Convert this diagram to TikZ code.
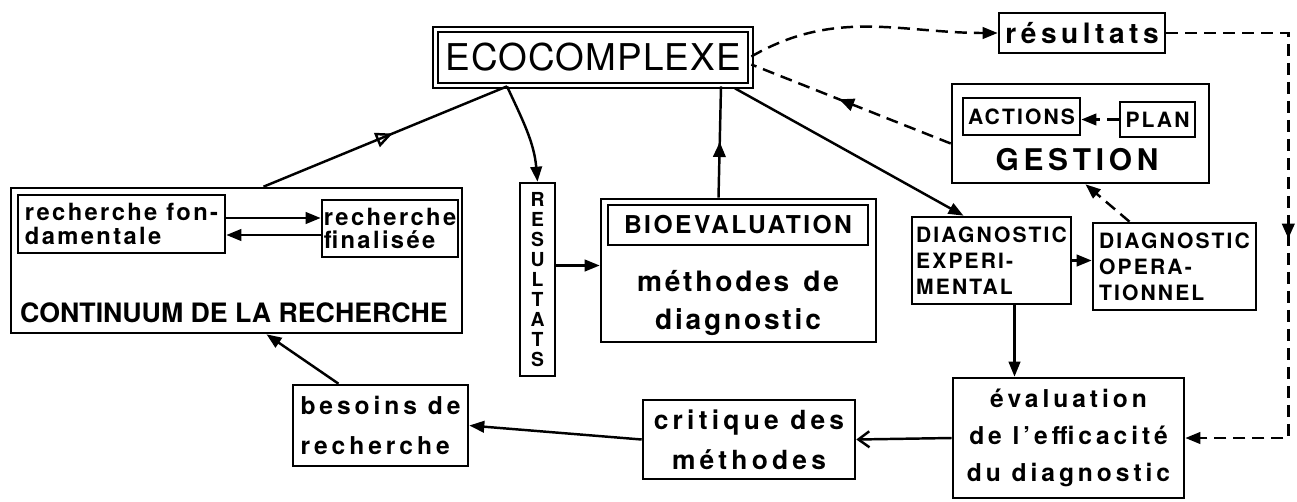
\documentclass[tikz,border=0pt]{standalone}
\usepackage{fontspec}
\newfontfamily\hv{TeX Gyre Heros}
\newfontfamily\hvA{TeX Gyre Heros}[LetterSpace=3]
\newfontfamily\hvB{TeX Gyre Heros}[LetterSpace=10]
\newfontfamily\hvC{TeX Gyre Heros}[LetterSpace=16]
\usetikzlibrary{arrows.meta, calc, decorations.markings}
\newcommand{\fs}[2]{\fontsize{#1}{#2}\selectfont}
\tikzset{
  every picture/.style={line width=1.4pt},
  box/.style={draw, line width=1.5pt, inner sep=0pt, align=#1},
  box/.default=center,
  arrow/.style={-{Triangle[length=3mm, width=2.3mm]}},
  dashline/.style={dash pattern=on 2.4mm off 1.4mm},
  midarrow/.style={postaction={decorate}, decoration={markings,
    mark=at position #1 with {\arrow{Triangle[length=3mm, width=2.5mm]}}}},
  midopen/.style={postaction={decorate}, decoration={markings,
    mark=at position #1 with {\arrow{Triangle[open, length=3.4mm, width=3mm]}}}},
}

\begin{document}
\begin{tikzpicture}[x=0.02cm, y=-0.02cm]
  \useasboundingbox (0,0) rectangle (1297,501);
  % top
  \node[box, double, double distance=1.5pt, line width=1pt, minimum width=6.3cm, minimum height=1.12cm,
    font=\hvA\fs{21}{24}] (eco) at (593,57.5) {ECOCOMPLEXE};
  \node[box, minimum width=3.32cm, minimum height=0.8cm, font=\hvC\bfseries\fs{16}{18}] (res) at (1082,33) {résultats};
  % continuum de la recherche
  \node[box, minimum width=9.02cm, minimum height=2.9cm] (cont) at (236.5,260.5) {};
  \node[box=left, minimum width=4.14cm, minimum height=1.16cm, font=\hvB\bfseries\fs{13.5}{13.4}] (fond) at (121.5,224) {recherche fon-\\damentale};
  \node[box=left, minimum width=2.72cm, minimum height=1.14cm, font=\hvB\bfseries\fs{13.5}{13.4}] (fin) at (390,228.5) {recherche\\finalisée};
  \node[font=\hv\bfseries\fs{15.2}{16}] (contlbl) at (234,313) {CONTINUUM DE LA RECHERCHE};
  \node[box, minimum width=0.7cm, minimum height=3.86cm, font=\hv\bfseries\fs{11}{11.4}] (resv) at (537.5,279.5) {R\\E\\S\\U\\L\\T\\A\\T\\S};
  % bioevaluation
  \node[box, minimum width=5.5cm, minimum height=2.86cm] (bio) at (738.5,270.5) {};
  \node[box, minimum width=5.2cm, minimum height=0.8cm, font=\hvB\bfseries\fs{14}{16}] (biot) at (738,225) {BIOEVALUATION};
  \node[align=center, font=\hvB\bfseries\fs{16}{22}] (biotxt) at (738,303) {méthodes\hspace{0.5em}de\\diagnostic};
  % gestion
  \node[box, minimum width=5.14cm, minimum height=1.98cm] (gest) at (1080.5,133.5) {};
  \node[box, minimum width=2.34cm, minimum height=0.74cm, font=\hvB\bfseries\fs{12}{14}] (act) at (1021.5,116.5) {ACTIONS};
  \node[box, minimum width=1.5cm, minimum height=0.7cm, font=\hvB\bfseries\fs{12}{14}] (plan) at (1157.5,119.5) {PLAN};
  \node[font=\hvC\bfseries\fs{17}{20}] (gestlbl) at (1077,160) {GESTION};
  % diagnostic
  \node[box=left, minimum width=3.18cm, minimum height=1.74cm, font=\hvB\bfseries\fs{12}{14.7}] (dexp) at (991.5,260.5) {DIAGNOSTIC\\EXPERI-\\MENTAL};
  \node[box=left, minimum width=3.26cm, minimum height=1.74cm, font=\hvB\bfseries\fs{12}{14.7}] (dop) at (1174.5,266.5) {DIAGNOSTIC\\OPERA-\\TIONNEL};
  % bottom row
  \node[box, minimum width=4.62cm, minimum height=2.4cm, font=\hvC\bfseries\fs{14}{21}] (eval) at (1068.5,438) {évaluation\\de l’efficacité\\du diagnostic};
  \node[box, minimum width=4.24cm, minimum height=1.58cm, font=\hvC\bfseries\fs{15}{22.7}] (crit) at (749,439.5) {critique des\\méthodes};
  \node[box=left, minimum width=3.5cm, minimum height=1.62cm, font=\hvC\bfseries\fs{14}{22.7}] (bes) at (380.5,425.5) {besoins de\\recherche};

  % links
  \coordinate (ecoL) at ($(eco.south)+(-86,0)$);
  \draw[midopen=0.53] ($(cont.north)+(27,0)$) -- (ecoL);
  \draw[arrow] (ecoL) to[out=-65, in=95] (resv.north);
  \draw[midarrow=0.5] ($(bio.north)+(-20,0)$) -- ($(eco.south)+(128,0)$);
  \draw[arrow] ($(eco.south)+(142,2)$) -- ($(dexp.north)+(-28,0)$);
  \draw[dashline, midarrow=0.56] ($(gest.west)+(0,10)$) -- ($(eco.east)+(0,7)$);
  \draw[dashline, arrow] ($(eco.east)+(0,-1)$) to[out=30, in=180] (res.west);
  \draw[dashline, arrow, midarrow=0.52] (res.east) -| ($(eval.east)+(103,0)$) -- (eval.east);
  \draw[dashline, arrow] (plan.west) -- (plan.west -| act.east);
  \draw[dashline, arrow] ($(dop.north)+(-45,0)$) -- ($(gest.south)+(5,0)$);
  \draw[arrow] (dexp.east) -- (dexp.east -| dop.west);
  \coordinate (dd) at ($(dexp.south)+(23,0)$);
  \draw[arrow] (dd) -- (dd |- eval.north);
  \draw[-{Straight Barb[length=2.2mm, width=3.2mm]}] (eval.west) -- (crit.east);
  \draw[arrow] (crit.west) -- (bes.east);
  \draw[arrow] ($(bes.north)+(-42,0)$) -- ($(cont.south)+(30,0)$);
  \coordinate (rv) at ($(resv.east)+(0,-14)$);
  \draw[arrow] (rv) -- (rv -| bio.west);
  \coordinate (f1) at ($(fond.east)+(0,-6)$);
  \draw[arrow] (f1) -- (f1 -| fin.west);
  \coordinate (f2) at ($(fin.west)+(0,6.5)$);
  \draw[arrow] (f2) -- (f2 -| fond.east);
\end{tikzpicture}
\end{document}
